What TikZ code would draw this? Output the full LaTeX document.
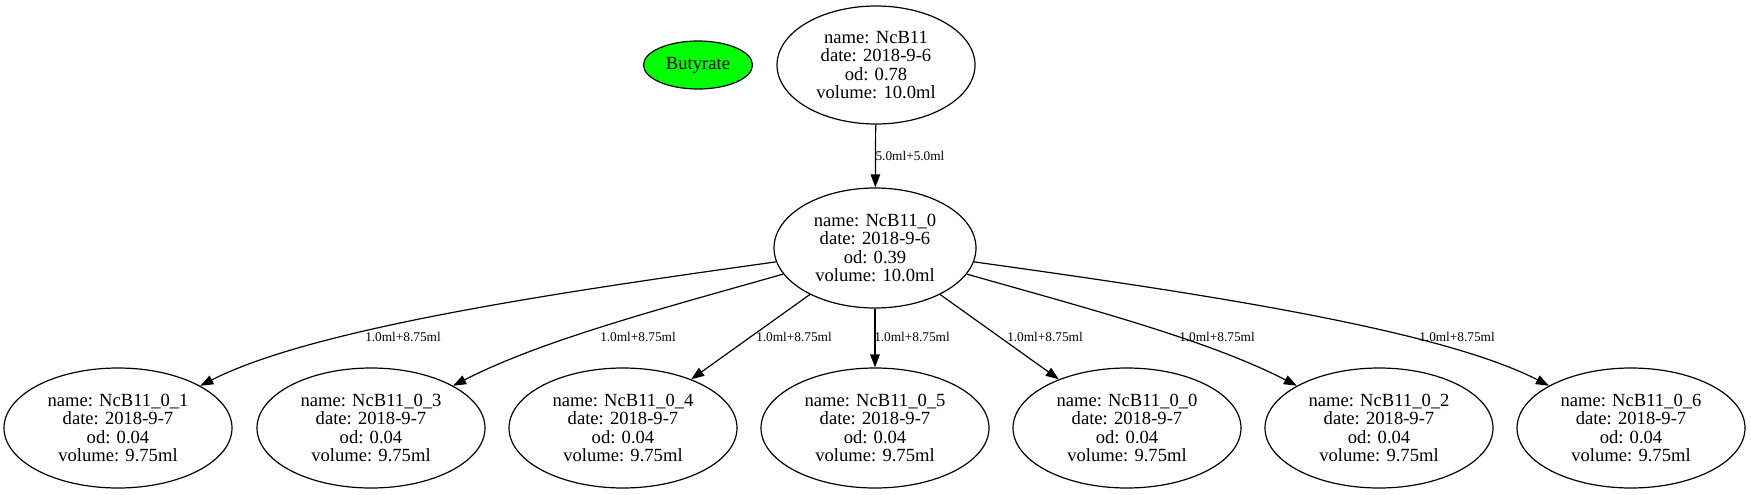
\documentclass[tikz,border=0pt]{standalone}
\usepackage{fontspec}
\setmainfont{Liberation Serif}
\usetikzlibrary{shapes.geometric,arrows.meta}
\tikzset{
  gvnode/.style={ellipse,draw,line width=1.2pt,inner sep=0pt,align=center,
    font=\fontsize{18.6pt}{18.6pt}\selectfont},
  smallnode/.style={gvnode,minimum width=228pt,minimum height=120pt},
  edge/.style={line width=1.2pt,-{Triangle[length=13pt,width=9.5pt]}},
  elabel/.style={inner sep=0pt,font=\fontsize{13.3pt}{13.3pt}\selectfont}
}
\begin{document}
\begin{tikzpicture}[x=1pt,y=-1pt]
\useasboundingbox (0,0) rectangle (1751,495);
\node[gvnode,fill={rgb,255:red,0;green,255;blue,0},minimum width=109pt,minimum height=48pt] (but) at (698,65) {Butyrate};
\node[gvnode,minimum width=198pt,minimum height=118pt] (top) at (876,65) {name: NcB11\\date: 2018-9-6\\od: 0.78\\volume: 10.0ml};
\node[gvnode,minimum width=202pt,minimum height=120pt] (mid) at (875,248) {name: NcB11\_0\\date: 2018-9-6\\od: 0.39\\volume: 10.0ml};
\node[smallnode] (b1) at (118,428) {name: NcB11\_0\_1\\date: 2018-9-7\\od: 0.04\\volume: 9.75ml};
\node[smallnode] (b3) at (371,428) {name: NcB11\_0\_3\\date: 2018-9-7\\od: 0.04\\volume: 9.75ml};
\node[smallnode] (b4) at (623,428) {name: NcB11\_0\_4\\date: 2018-9-7\\od: 0.04\\volume: 9.75ml};
\node[smallnode] (b5) at (875,428) {name: NcB11\_0\_5\\date: 2018-9-7\\od: 0.04\\volume: 9.75ml};
\node[smallnode] (b0) at (1127,428) {name: NcB11\_0\_0\\date: 2018-9-7\\od: 0.04\\volume: 9.75ml};
\node[smallnode] (b2) at (1379,428) {name: NcB11\_0\_2\\date: 2018-9-7\\od: 0.04\\volume: 9.75ml};
\node[smallnode] (b6) at (1631,428) {name: NcB11\_0\_6\\date: 2018-9-7\\od: 0.04\\volume: 9.75ml};

\draw[edge] (top) -- (mid);
\node[elabel] (l0) at (910,156) {5.0ml+5.0ml};

\draw[edge] (mid) .. controls (575,290) and (315,327) .. (b1);
\draw[edge] (mid) .. controls (664,308) and (542,340) .. (b3);
\draw[edge] (mid) -- (b4);
\draw[edge] (mid) -- (b5);
\draw[edge] (mid) -- (b0);
\draw[edge] (mid) .. controls (1086,308) and (1208,340) .. (b2);
\draw[edge] (mid) .. controls (1175,290) and (1435,327) .. (b6);

\node[elabel] (l1) at (403,337) {1.0ml+8.75ml};
\node[elabel] (l3) at (638,337) {1.0ml+8.75ml};
\node[elabel] (l4) at (794,337) {1.0ml+8.75ml};
\node[elabel] (l5) at (912,337) {1.0ml+8.75ml};
\node[elabel] (l6) at (1045,337) {1.0ml+8.75ml};
\node[elabel] (l2) at (1217,337) {1.0ml+8.75ml};
\node[elabel] (l7) at (1457,337) {1.0ml+8.75ml};
\end{tikzpicture}
\end{document}
